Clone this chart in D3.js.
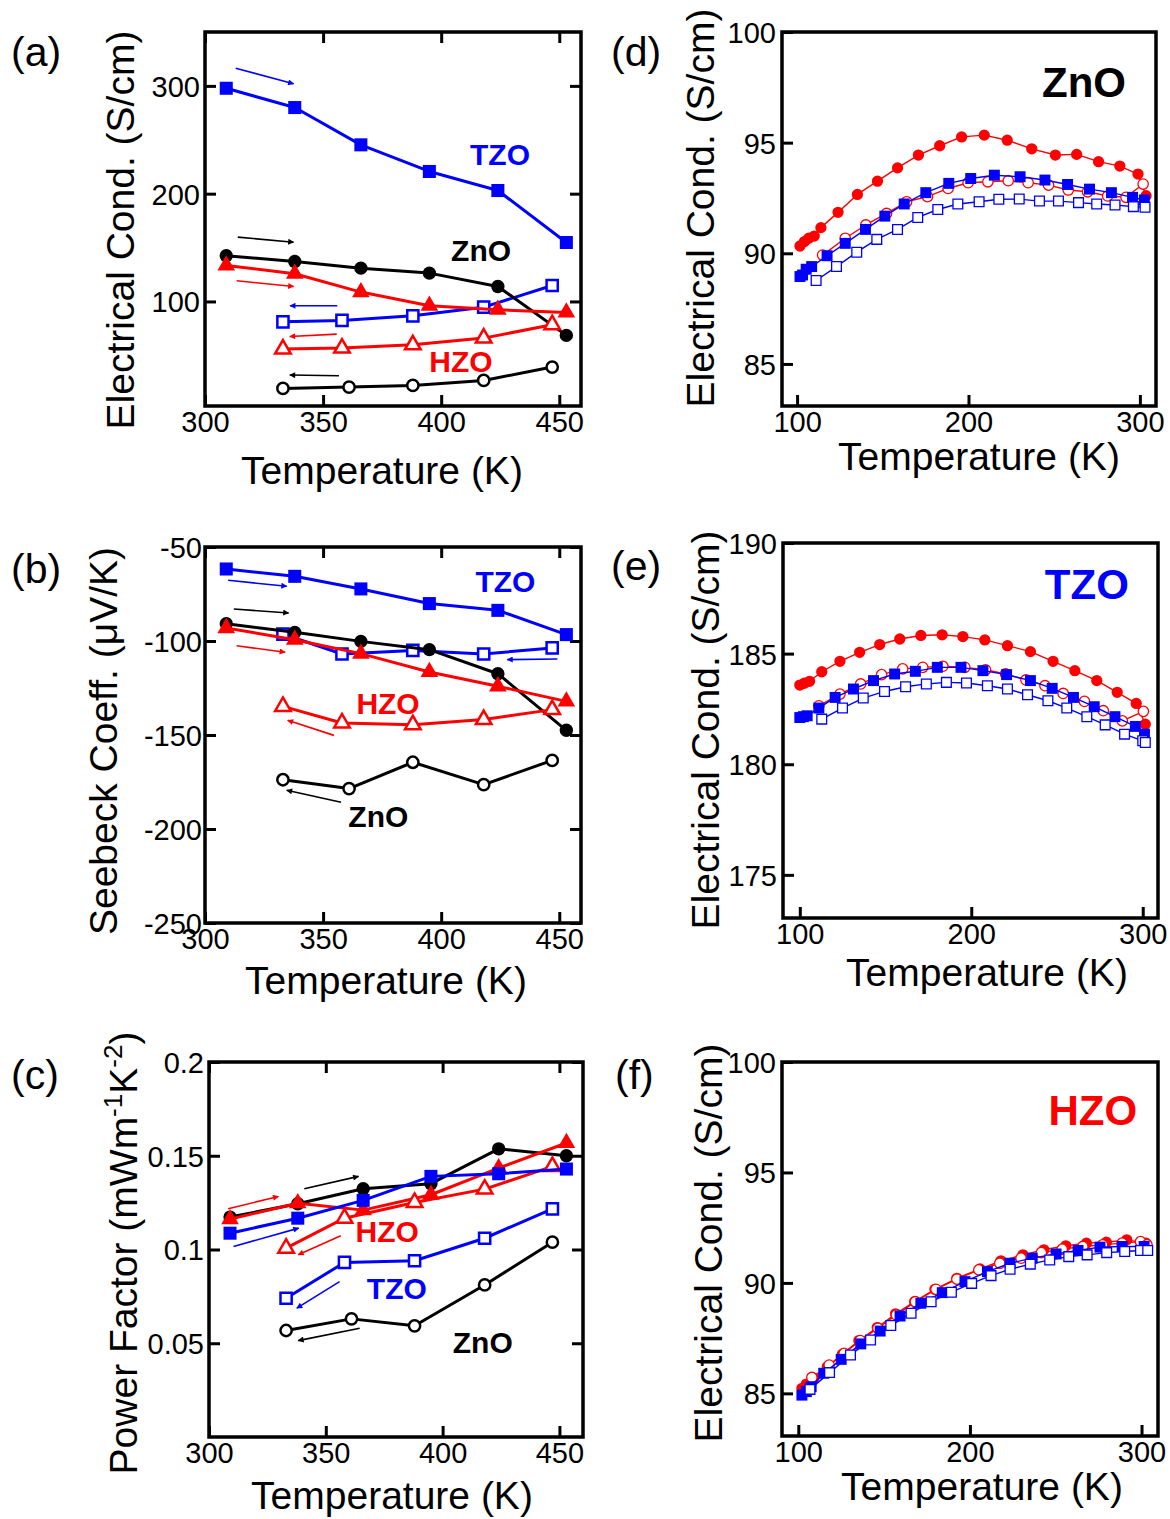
<!DOCTYPE html>
<html><head><meta charset="utf-8">
<script src="https://cdn.jsdelivr.net/npm/d3@7"></script>
<style>body{margin:0;background:#fff} svg text{font-family:"Liberation Sans",Arial,Helvetica,sans-serif}</style>
</head><body><svg id="c" width="1170" height="1519"></svg>
<script>
// ---------------- DATA ----------------
// Left panels: heating (closed) and cooling (open) temperatures
const tHeat = [309, 338, 366, 395, 424, 453];
const tCool = [333, 358, 388, 418, 447];
const tCoolZnO = [333, 361, 388, 418, 447];

// (a) Electrical conductivity (S/cm)
const condTZOHeat = [297.8, 279.9, 245.3, 220.6, 202.9, 154.7];
const condTZOCool = [81.1, 82.4, 86.7, 94.7, 114.8];
const condZnOHeat = [142.4, 137.1, 130.9, 126.3, 113.9, 68.5];
const condZnOCool = [19.3, 20.6, 22.1, 26.7, 39.1];
const condHZOHeat = [133.4, 125.7, 108.7, 96.0, 92.3, 89.8];
const condHZOCool = [55.8, 56.7, 59.8, 66.0, 78.4];

// (b) Seebeck coefficient (uV/K)
const seeTZOHeat = [-61.7, -65.6, -72.3, -80.1, -83.7, -96.6];
const seeTZOCool = [-96.3, -106.9, -105.0, -106.9, -103.7];
const seeZnOHeat = [-90.8, -95.4, -100.2, -104.6, -117.4, -147.5];
const seeZnOCool = [-173.8, -178.5, -164.5, -176.4, -163.5];
const seeHZOHeat = [-93.1, -99.3, -106.7, -116.5, -124.1, -132.1];
const seeHZOCool = [-134.8, -143.6, -144.5, -141.8, -136.5];

// (c) Power factor (mW m^-1 K^-2)
const pfZnOHeat = [0.1173, 0.1244, 0.1324, 0.1351, 0.1537, 0.1500];
const pfZnOCool = [0.0568, 0.0630, 0.0593, 0.0811, 0.1039];
const pfTZOHeat = [0.1087, 0.1167, 0.1262, 0.1390, 0.1404, 0.1429];
const pfTZOCool = [0.0740, 0.0931, 0.0940, 0.1060, 0.1217];
const pfHZOHeat = [0.1162, 0.1247, 0.1210, 0.1292, 0.1434, 0.1568];
const pfHZOCool = [0.1007, 0.1167, 0.1251, 0.1322, 0.1443];

// (d) ZnO low temperature
const dRedClosedT = [101.7, 104.3, 106.8, 110, 113.9, 123.9, 135.2, 146.9, 158.6, 170.8, 183.2, 196, 209.2, 222.6, 236.9, 250.7, 263.1, 275.9, 288.3, 298.9, 303.6];
const dRedClosedV = [90.33, 90.53, 90.68, 90.78, 91.16, 91.85, 92.66, 93.26, 93.86, 94.44, 94.86, 95.26, 95.34, 95.11, 94.72, 94.44, 94.47, 94.14, 93.94, 93.58, 92.6];
const dRedOpenT = [114.9, 128.1, 140.1, 152.2, 163.9, 176.1, 188.1, 199.8, 211.3, 223.2, 234.8, 246.7, 258.2, 269.5, 281.2, 291.9, 301.9];
const dRedOpenV = [89.92, 90.68, 91.28, 91.80, 92.33, 92.56, 92.93, 93.19, 93.23, 93.28, 93.19, 93.08, 92.86, 92.78, 92.59, 92.53, 93.13];
const dBlueClosedT = [101.7, 103.2, 105.3, 108.5, 117.5, 128.1, 139.9, 151.2, 162.5, 175.1, 188.5, 201.3, 215.1, 230.1, 244.6, 257.8, 270.6, 283.4, 295.7, 302.6];
const dBlueClosedV = [88.95, 89.02, 89.28, 89.40, 89.89, 90.45, 91.08, 91.68, 92.23, 92.74, 93.16, 93.38, 93.53, 93.46, 93.31, 93.11, 92.90, 92.74, 92.53, 92.41];
const dBlueOpenT = [111.1, 123, 134.8, 146.5, 158.6, 170.4, 182.1, 193.8, 206.2, 217.7, 229.6, 241.4, 252.5, 264.2, 274.8, 285.5, 296.2, 303];
const dBlueOpenV = [88.77, 89.40, 90.05, 90.63, 91.08, 91.62, 91.98, 92.23, 92.33, 92.44, 92.45, 92.36, 92.36, 92.29, 92.23, 92.18, 92.11, 92.08];

// (e) TZO low temperature
const eRedClosedT = [100, 102.6, 105.7, 112.8, 123.4, 134.9, 146.6, 158.3, 170.6, 183, 195.1, 207.9, 221.1, 234.5, 247.7, 260.4, 273.2, 285.1, 296.2, 301.5];
const eRedClosedV = [183.58, 183.66, 183.75, 184.18, 184.65, 185.06, 185.41, 185.66, 185.82, 185.85, 185.77, 185.62, 185.36, 185.09, 184.65, 184.23, 183.78, 183.25, 182.75, 181.81];
const eRedOpenT = [111.1, 123.4, 135.5, 147.7, 160, 171.7, 183.4, 196.2, 208.3, 220, 231.9, 243, 253.6, 266, 277, 288.1, 300.4];
const eRedOpenV = [182.64, 183.17, 183.63, 184.05, 184.31, 184.38, 184.43, 184.38, 184.27, 184.08, 183.81, 183.55, 183.2, 182.84, 182.42, 181.96, 182.39];
const eBlueClosedT = [100, 102.1, 104.3, 111.1, 120.6, 131.3, 143, 155.3, 167.4, 180.2, 194, 206.8, 220.6, 234.5, 247.2, 259.6, 271.7, 283.8, 295.7, 301];
const eBlueClosedV = [182.11, 182.15, 182.19, 182.54, 183.02, 183.4, 183.78, 184.08, 184.2, 184.38, 184.38, 184.23, 184.05, 183.78, 183.43, 183.02, 182.6, 182.15, 181.71, 181.36];
const eBlueOpenT = [112.8, 124.9, 137, 149.4, 161.7, 173.8, 185.5, 197.2, 209.4, 221.1, 232.8, 244.7, 255.7, 267.4, 278.1, 289.4, 300, 301.5];
const eBlueOpenV = [182.04, 182.54, 182.99, 183.29, 183.5, 183.63, 183.7, 183.67, 183.55, 183.4, 183.14, 182.87, 182.54, 182.15, 181.78, 181.36, 181.06, 180.98];

// (f) HZO low temperature
const fRedClosedT = [102.1, 104.7, 109, 116.9, 125.7, 135.3, 146, 156.7, 167.8, 179.6, 192.4, 205.9, 218.1, 230.9, 243.1, 255.9, 267.9, 279.5, 291.4, 302.6];
const fRedClosedV = [85.23, 85.42, 85.68, 86.21, 86.77, 87.39, 87.98, 88.6, 89.15, 89.71, 90.21, 90.63, 91.0, 91.27, 91.5, 91.68, 91.8, 91.84, 91.95, 91.8];
const fRedOpenT = [107.9, 118, 126.7, 136.1, 146.4, 157.1, 168.2, 180.2, 192.4, 205.2, 217.4, 229.8, 241.6, 253.8, 265.8, 277.3, 288.7, 299.4, 303.2];
const fRedOpenV = [85.72, 86.28, 86.81, 87.39, 87.95, 88.55, 89.15, 89.71, 90.17, 90.59, 90.89, 91.12, 91.37, 91.53, 91.65, 91.72, 91.8, 91.87, 91.72];
const fBlueClosedT = [102.1, 104.7, 107.5, 114.8, 125, 136.4, 147.7, 159.3, 171.4, 183.9, 197.1, 210.2, 223.4, 236.3, 250.2, 263, 275.8, 288.7, 301.5];
const fBlueClosedV = [84.92, 85.08, 85.3, 85.91, 86.54, 87.24, 87.82, 88.5, 89.08, 89.56, 90.06, 90.51, 90.89, 91.12, 91.31, 91.47, 91.62, 91.65, 91.65];
const fBlueOpenT = [106.8, 118.2, 130.4, 142.1, 153.9, 165.7, 177.4, 189.2, 201, 212.3, 223.4, 235.2, 246.5, 257.6, 268.3, 279.7, 290.2, 299.4, 303.6];
const fBlueOpenV = [85.18, 85.94, 86.74, 87.42, 88.07, 88.63, 89.15, 89.58, 89.98, 90.33, 90.62, 90.85, 91.04, 91.19, 91.27, 91.37, 91.42, 91.47, 91.47];

// Tick values
const xTicksHigh = [300, 350, 400, 450];
const xTicksLow = [100, 200, 300];
const yTicksA = [100, 200, 300];
const yTicksB = [-250, -200, -150, -100, -50];
const yTicksC = [0.05, 0.1, 0.15, 0.2];
const yTicksD = [85, 90, 95, 100];
const yTicksE = [175, 180, 185, 190];
const yTicksF = [85, 90, 95, 100];

// Annotations (arrows: data units [T, value])
const arrowsA = [["blue",[313,316.4],[337.5,301.9]],["black",[313.9,159.7],[337.5,155]],["red",[313.4,119.2],[337.5,113.9]],
  ["blue",[356,96],[336,96]],["red",[355.8,69.7],[335.9,67.5]],["black",[356.7,31],[335.9,31.7]]];
const arrowsB = [["blue",[309.8,-67.7],[334.6,-70.9]],["black",[312.2,-83],[335.4,-85.1]],["red",[313.4,-102.5],[333.9,-106]],
  ["blue",[449.2,-109.6],[428,-109.9]],["red",[354.6,-150.2],[335,-142.2]],["black",[357.6,-185.8],[334.6,-179.4]]];
const arrowsC = [["red",[308.2,0.1217],[329.7,0.1283]],["black",[340.8,0.1324],[364,0.1390]],["blue",[310.5,0.1016],[338.4,0.1114]],
  ["red",[356.4,0.1073],[338.2,0.0972]],["blue",[355.9,0.0829],[337.6,0.0687]],["black",[364.5,0.0580],[338.2,0.0514]]];
const labelsA = [["TZO","blue",424.9,236.8],["ZnO","black",416.9,147.7],["HZO","red",408.4,44.3]];
const labelsB = [["TZO","blue",427.2,-68.3],["HZO","red",377.5,-133],["ZnO","black",373.4,-193.3]];
const labelsC = [["HZO","red",376.3,0.1096],["TZO","blue",380.4,0.0794],["ZnO","black",417.2,0.0504]];
const labelsD = [["ZnO","black",267.4,97.74]];
const labelsE = [["TZO","blue",267.4,188.16]];
const labelsF = [["HZO","red",271.6,97.84]];

// ---------------- DRAW ----------------
const COL = {blue:"#0000ff", red:"#ff0000", black:"#000000"};
const svg = d3.select("#c");
const defs = svg.append("defs");
Object.entries(COL).forEach(([k,c]) => {
  defs.append("marker").attr("id","arr-"+k).attr("viewBox","0 0 10 10").attr("refX",9).attr("refY",5)
    .attr("markerWidth",9).attr("markerHeight",6).attr("markerUnits","userSpaceOnUse").attr("orient","auto")
    .append("path").attr("d","M0,0 L10,5 L0,10 Z").attr("fill",c);
});

function hi(color, sym, open, t, v){ return {color, sym, open, t, v}; }
const intFmt = d => String(d).replace("\u2212","-");
const decFmt = d => String(+d.toFixed(2));

const panels = [
  {id:"a", left:205, right:581, top:32, bottom:406, xd:[300,459.2], yd:[3,350], xt:xTicksHigh, yt:yTicksA, fmt:intFmt,
   big:true, mirror:true, ylab:"Electrical Cond. (S/cm)", ylx:134, yly:230, xlx:382, xly:484, tag:"(a)", tagx:11, tagy:66,
   series:[hi("blue","square",false,tHeat,condTZOHeat),hi("blue","square",true,tCool,condTZOCool),
           hi("black","circle",false,tHeat,condZnOHeat),hi("black","circle",true,tCoolZnO,condZnOCool),
           hi("red","triangle",false,tHeat,condHZOHeat),hi("red","triangle",true,tCool,condHZOCool)],
   arrows:arrowsA, labels:labelsA, lsize:30, ypad:5},
  {id:"b", left:205, right:581, top:547, bottom:923, xd:[300,459.2], yd:[-250,-50], xt:xTicksHigh, yt:yTicksB, fmt:intFmt,
   big:true, mirror:true, ylab:"Seebeck Coeff. (\u03bcV/K)", ylx:117, yly:741, xlx:386, xly:994, tag:"(b)", tagx:11, tagy:583,
   series:[hi("blue","square",false,tHeat,seeTZOHeat),hi("blue","square",true,tCool,seeTZOCool),
           hi("black","circle",false,tHeat,seeZnOHeat),hi("black","circle",true,tCoolZnO,seeZnOCool),
           hi("red","triangle",false,tHeat,seeHZOHeat),hi("red","triangle",true,tCool,seeHZOCool)],
   arrows:arrowsB, labels:labelsB, lsize:30, ypad:3},
  {id:"c", left:209, right:583, top:1062, bottom:1437, xd:[300,460.1], yd:[0,0.2], xt:xTicksHigh, yt:yTicksC, fmt:decFmt,
   big:true, mirror:true, ylab:null, ylx:137, yly:1253, xlx:392, xly:1509, tag:"(c)", tagx:11, tagy:1089,
   series:[hi("black","circle",false,tHeat,pfZnOHeat),hi("black","circle",true,tCoolZnO,pfZnOCool),
           hi("red","triangle",false,tHeat,pfHZOHeat),hi("red","triangle",true,tCool,pfHZOCool),
           hi("blue","square",false,tHeat,pfTZOHeat),hi("blue","square",true,tCool,pfTZOCool)],
   arrows:arrowsC, labels:labelsC, lsize:30, ypad:5},
  {id:"d", left:782, right:1156, top:32, bottom:406, xd:[91.2,309.4], yd:[83.1,100], xt:xTicksLow, yt:yTicksD, fmt:intFmt,
   big:false, mirror:false, ylab:"Electrical Cond. (S/cm)", ylx:714, yly:208, xlx:979, xly:470, tag:"(d)", tagx:611, tagy:66,
   series:[hi("red","circle",false,dRedClosedT,dRedClosedV),hi("red","circle",true,dRedOpenT,dRedOpenV),
           hi("blue","square",false,dBlueClosedT,dBlueClosedV),hi("blue","square",true,dBlueOpenT,dBlueOpenV)],
   arrows:[], labels:labelsD, lsize:42, ypad:6},
  {id:"e", left:783, right:1158, top:543, bottom:918, xd:[90.2,308.9], yd:[173.05,190], xt:xTicksLow, yt:yTicksE, fmt:intFmt,
   big:false, mirror:false, ylab:"Electrical Cond. (S/cm)", ylx:719, yly:730, xlx:987, xly:986, tag:"(e)", tagx:611, tagy:580,
   series:[hi("red","circle",false,eRedClosedT,eRedClosedV),hi("red","circle",true,eRedOpenT,eRedOpenV),
           hi("blue","square",false,eBlueClosedT,eBlueClosedV),hi("blue","square",true,eBlueOpenT,eBlueOpenV)],
   arrows:[], labels:labelsE, lsize:42, ypad:6},
  {id:"f", left:782, right:1158, top:1062, bottom:1436, xd:[90.5,309.6], yd:[83.07,100], xt:xTicksLow, yt:yTicksF, fmt:intFmt,
   big:false, mirror:false, ylab:"Electrical Cond. (S/cm)", ylx:722, yly:1243, xlx:982, xly:1500, tag:"(f)", tagx:615, tagy:1089,
   series:[hi("red","circle",false,fRedClosedT,fRedClosedV),hi("red","circle",true,fRedOpenT,fRedOpenV),
           hi("blue","square",false,fBlueClosedT,fBlueClosedV),hi("blue","square",true,fBlueOpenT,fBlueOpenV)],
   arrows:[], labels:labelsF, lsize:42, ypad:6}
];

const SYM = {circle:d3.symbolCircle, square:d3.symbolSquare, triangle:d3.symbolTriangle};
function symSize(p, sym, open){
  if (p.big){
    if (sym==="square") return open?125:170;
    if (sym==="circle") return open?100:140;
    return open?105:135;
  } else {
    if (sym==="square") return open?95:120;
    if (sym==="circle") return open?85:100;
    return 80;
  }
}

panels.forEach(p => {
  const g = svg.append("g").attr("class","panel-"+p.id);
  const x = d3.scaleLinear().domain(p.xd).range([p.left,p.right]);
  const y = d3.scaleLinear().domain(p.yd).range([p.bottom,p.top]);
  const lw = p.big?3:1.4;

  // axes
  const ax = g.append("g").attr("transform",`translate(0,${p.bottom})`)
    .call(d3.axisBottom(x).tickValues(p.xt).tickFormat(intFmt).tickSize(-11).tickPadding(5));
  const ay = g.append("g").attr("transform",`translate(${p.left},0)`)
    .call(d3.axisLeft(y).tickValues(p.yt).tickFormat(p.fmt).tickSize(-11).tickPadding(p.ypad));
  [ax,ay].forEach(a=>{
    a.select(".domain").remove();
    a.selectAll("line").attr("stroke","#000").attr("stroke-width",3);
    a.selectAll("text").attr("font-size",29).attr("fill","#000").attr("font-family",'"Liberation Sans",Arial,sans-serif');
  });
  ay.selectAll("text").attr("dy","0.36em");
  if (p.mirror){
    const at = g.append("g").attr("transform",`translate(0,${p.top})`)
      .call(d3.axisTop(x).tickValues(p.xt).tickFormat("").tickSize(-11));
    const ar = g.append("g").attr("transform",`translate(${p.right},0)`)
      .call(d3.axisRight(y).tickValues(p.yt).tickFormat("").tickSize(-11));
    [at,ar].forEach(a=>{ a.select(".domain").remove(); a.selectAll("line").attr("stroke","#000").attr("stroke-width",3); });
  }

  // series
  p.series.forEach(s => {
    const pts = s.t.map((t,i)=>[t,s.v[i]]);
    g.append("path").attr("d", d3.line().x(d=>x(d[0])).y(d=>y(d[1]))(pts))
      .attr("fill","none").attr("stroke",COL[s.color]).attr("stroke-width",lw).attr("stroke-linejoin","round");
    g.append("g").selectAll("path").data(pts).join("path")
      .attr("transform", d=>`translate(${x(d[0])},${y(d[1])})`)
      .attr("d", d3.symbol(SYM[s.sym], symSize(p,s.sym,s.open))())
      .attr("fill", s.open?"#fff":COL[s.color])
      .attr("stroke", COL[s.color]).attr("stroke-width", s.open?(p.big?2.5:1.3):0);
  });

  // arrows
  p.arrows.forEach(([c,a,b]) => {
    g.append("line").attr("x1",x(a[0])).attr("y1",y(a[1])).attr("x2",x(b[0])).attr("y2",y(b[1]))
      .attr("stroke",COL[c]).attr("stroke-width",1.6).attr("marker-end",`url(#arr-${c})`);
  });

  // in-plot labels
  p.labels.forEach(([t,c,lx,ly]) => {
    g.append("text").attr("x",x(lx)).attr("y",y(ly)).attr("dy","0.36em").attr("text-anchor","middle")
      .attr("font-size",p.lsize).attr("font-weight","bold").attr("fill",COL[c]).text(t);
  });

  // frame
  g.append("rect").attr("x",p.left).attr("y",p.top).attr("width",p.right-p.left).attr("height",p.bottom-p.top)
    .attr("fill","none").attr("stroke","#000").attr("stroke-width",3.5);

  // axis titles
  g.append("text").attr("x",p.xlx).attr("y",p.xly).attr("text-anchor","middle").attr("font-size",39).text("Temperature (K)");
  const yt = g.append("text").attr("transform",`translate(${p.ylx},${p.yly}) rotate(-90)`).attr("text-anchor","middle").attr("font-size",39);
  if (p.ylab) yt.text(p.ylab);
  else {
    yt.append("tspan").text("Power Factor (mWm");
    yt.append("tspan").attr("font-size",26).attr("baseline-shift","super").text("-1");
    yt.append("tspan").text("K");
    yt.append("tspan").attr("font-size",26).attr("baseline-shift","super").text("-2");
    yt.append("tspan").text(")");
  }
  // panel tag
  g.append("text").attr("x",p.tagx).attr("y",p.tagy).attr("font-size",41).text(p.tag);
});
</script></body></html>
